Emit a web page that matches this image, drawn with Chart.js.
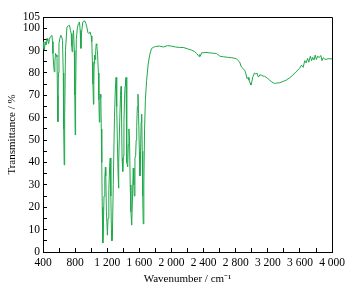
<!DOCTYPE html>
<html>
<head>
<meta charset="utf-8">
<title>FTIR spectrum</title>
<script src="https://cdn.jsdelivr.net/npm/chart.js@4.4.1/dist/chart.umd.min.js"></script>
<style>
    html, body { margin: 0; padding: 0; background: #fff; }
    #wrap { width: 353px; height: 294px; }
</style>
</head>
<body>
<div id="wrap"><canvas id="irChart" width="353" height="294"></canvas></div>
<script>
// wavenumber (cm-1) and transmittance (%)
const wavenumbers = [
    400, 410, 416, 429, 440, 450, 460, 470, 480, 491, 512, 518, 524, 532, 540, 548, 556, 565, 574, 580,
    586, 592, 599, 610, 623, 633, 643, 652, 658, 664, 670, 680, 698, 715, 730, 742, 751, 758, 763, 770,
    780, 790, 796, 801, 806, 815, 829, 842, 854, 863, 872, 880, 896, 910, 921, 935, 946, 960, 971, 980,
    987, 1000, 1008, 1015, 1022, 1028, 1033, 1037, 1042, 1049, 1056, 1063, 1070, 1080, 1090, 1096, 1102, 1108, 1114, 1120,
    1126, 1132, 1138, 1145, 1150, 1160, 1170, 1177, 1182, 1190, 1202, 1210, 1220, 1230, 1237, 1245, 1252, 1258, 1264, 1275,
    1290, 1300, 1310, 1318, 1326, 1335, 1340, 1346, 1355, 1365, 1372, 1378, 1385, 1393, 1401, 1408, 1415, 1422, 1428, 1434,
    1440, 1446, 1455, 1462, 1470, 1478, 1486, 1495, 1505, 1515, 1524, 1532, 1537, 1545, 1554, 1560, 1567, 1575, 1583, 1590,
    1600, 1608, 1615, 1622, 1629, 1636, 1642, 1648, 1656, 1665, 1675, 1690, 1710, 1731, 1752, 1773, 1800, 1850, 1900, 1950,
    2000, 2050, 2100, 2145, 2200, 2250, 2290, 2312, 2330, 2345, 2353, 2360, 2375, 2394, 2430, 2470, 2520, 2560, 2590, 2601,
    2650, 2700, 2750, 2808, 2830, 2849, 2870, 2890, 2911, 2925, 2940, 2955, 2965, 2980, 2990, 3000, 3014, 3035, 3050, 3064,
    3076, 3089, 3100, 3118, 3140, 3160, 3180, 3200, 3221, 3250, 3283, 3310, 3346, 3390, 3429, 3470, 3511, 3550, 3594, 3620,
    3640, 3660, 3677, 3695, 3710, 3730, 3745, 3759, 3775, 3790, 3805, 3820, 3842, 3860, 3875, 3890, 3910, 3925, 3950, 3975,
    4000
];

const transmittance = [
    93.9, 91.0, 90.2, 93.9, 92.5, 95.4, 94.5, 93.1, 95.0, 96.1, 96.8, 94.0, 88.7, 84.0, 80.5, 85.0, 88.7, 88.0, 87.2, 70.0,
    58.2, 80.0, 93.1, 95.5, 96.8, 96.0, 94.6, 80.0, 55.0, 38.9, 60.0, 90.0, 100.5, 101.0, 101.3, 99.0, 97.6, 92.0, 89.5, 95.0,
    99.0, 90.0, 70.0, 52.3, 70.0, 95.0, 100.5, 102.0, 102.8, 99.0, 91.0, 98.0, 102.8, 103.2, 103.2, 102.0, 100.5, 98.0, 97.6, 98.2,
    98.3, 96.5, 94.0, 85.0, 75.0, 66.0, 75.0, 84.0, 88.0, 86.0, 90.0, 93.0, 92.5, 88.0, 80.0, 68.0, 58.0, 65.0, 70.5, 69.0,
    55.0, 40.0, 20.0, 4.0, 8.0, 25.0, 33.0, 37.9, 34.0, 18.0, 7.5, 15.0, 28.0, 38.0, 42.0, 25.0, 10.0, 5.0, 7.0, 30.0,
    60.0, 72.0, 78.0, 65.0, 50.0, 35.0, 28.5, 40.0, 58.0, 70.0, 74.0, 62.0, 42.0, 36.0, 43.0, 58.0, 68.0, 74.0, 77.0, 78.0,
    60.0, 40.0, 38.0, 48.0, 55.0, 50.0, 30.0, 18.0, 12.0, 25.0, 37.5, 30.0, 25.0, 42.0, 43.0, 50.0, 56.0, 65.0, 70.5, 62.0,
    45.0, 34.0, 45.0, 58.0, 61.6, 45.0, 25.0, 12.6, 30.0, 55.0, 68.0, 76.5, 84.0, 88.4, 90.9, 91.4, 91.8, 92.0, 91.6, 92.2,
    92.0, 91.6, 91.4, 91.4, 90.8, 90.2, 89.5, 88.7, 88.0, 87.3, 88.3, 87.5, 89.0, 89.0, 89.2, 89.0, 88.8, 88.7, 87.9, 87.5,
    87.2, 87.0, 86.8, 86.4, 85.5, 84.9, 82.7, 82.0, 81.2, 80.0, 77.5, 78.0, 76.8, 75.5, 74.6, 76.0, 78.3, 80.0, 79.5, 80.0,
    78.5, 78.3, 79.2, 79.0, 78.6, 78.5, 78.0, 77.5, 76.8, 76.0, 75.3, 75.5, 75.6, 76.2, 76.8, 77.8, 79.0, 80.5, 82.0, 83.5,
    82.5, 85.5, 84.5, 86.5, 84.8, 87.5, 85.5, 87.0, 85.8, 88.0, 86.0, 87.5, 86.9, 87.8, 85.5, 86.8, 86.2, 86.0, 86.4, 86.3,
    86.4
];

const xLabelTicks = [400, 800, 1200, 1600, 2000, 2400, 2800, 3200, 3600, 4000];
const yLabelTicks = [0, 10, 20, 30, 40, 50, 60, 70, 80, 90, 100, 105];

const lineColor = "#1fa84a";
const serif = "'Liberation Serif', 'Times New Roman', serif";

function formatWavenumber(value) {
    // thousands separated by a space, as in the figure
    return String(value).replace(/\B(?=(\d{3})+(?!\d))/g, " ");
}

const framePlugin = {
    id: "frame",
    afterDraw(chart) {
        const { ctx, chartArea } = chart;
        ctx.save();
        ctx.strokeStyle = "#000";
        ctx.lineWidth = 1;
        ctx.beginPath();
        ctx.moveTo(Math.round(chartArea.left) + 0.5, Math.round(chartArea.top) + 0.5);
        ctx.lineTo(Math.round(chartArea.right) + 0.5, Math.round(chartArea.top) + 0.5);
        ctx.lineTo(Math.round(chartArea.right) + 0.5, Math.round(chartArea.bottom) + 0.5);
        ctx.stroke();
        ctx.restore();
    }
};

function createChart() {
    Chart.defaults.font.family = serif;
    Chart.defaults.color = "#000";

    const points = wavenumbers.map((wn, i) => ({ x: wn, y: transmittance[i] }));

    new Chart(document.getElementById("irChart"), {
        type: "line",
        data: {
            datasets: [{
                data: points,
                borderColor: lineColor,
                borderWidth: 1,
                pointRadius: 0,
                tension: 0,
                fill: false
            }]
        },
        options: {
            responsive: false,
            animation: false,
            layout: { padding: { top: 17, right: 20, left: 0, bottom: 0 } },
            plugins: {
                legend: { display: false },
                tooltip: { enabled: false }
            },
            scales: {
                x: {
                    type: "linear",
                    min: 400,
                    max: 4000,
                    afterFit: (scale) => { scale.height = 42; },
                    border: { display: true, color: "#000", width: 1 },
                    grid: { drawOnChartArea: false, color: "#000", tickLength: -4 },
                    ticks: {
                        stepSize: 200,
                        autoSkip: false,
                        maxRotation: 0,
                        padding: 8,
                        font: { size: 11.5 },
                        callback: (value) => xLabelTicks.includes(value) ? formatWavenumber(value) : ""
                    },
                    title: {
                        display: true,
                        text: "Wavenumber / cm\u207B\u00B9",
                        font: { size: 11 },
                        padding: { top: 0, bottom: 8 }
                    }
                },
                y: {
                    min: 0,
                    max: 105,
                    afterFit: (scale) => { scale.width = 43; },
                    afterBuildTicks: (scale) => {
                        const ticks = [];
                        for (let v = 0; v <= 105; v += 5) ticks.push({ value: v });
                        scale.ticks = ticks;
                    },
                    border: { display: true, color: "#000", width: 1 },
                    grid: { drawOnChartArea: false, color: "#000", tickLength: -4 },
                    ticks: {
                        autoSkip: false,
                        padding: 7,
                        font: { size: 11.5 },
                        callback: (value) => yLabelTicks.includes(value) ? String(value) : ""
                    },
                    title: {
                        display: true,
                        text: "Transmittance / %",
                        font: { size: 11 },
                        padding: { top: 6, bottom: 0 }
                    }
                }
            }
        },
        plugins: [framePlugin]
    });
}

document.addEventListener("DOMContentLoaded", () => {
    if (window.Chart) {
        createChart();
    }
});
</script>
</body>
</html>
